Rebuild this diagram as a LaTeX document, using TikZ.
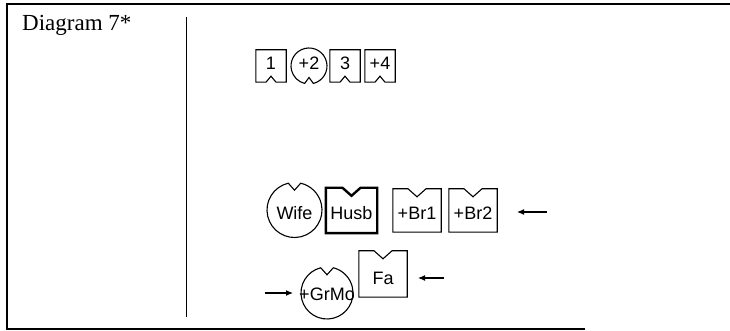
\documentclass[tikz,border=0pt]{standalone}
\usepackage{fontspec}
\setmainfont{Liberation Serif}
\newfontfamily\arialfont{Liberation Sans}
\usetikzlibrary{calc,arrows.meta}
\tikzset{
  frameline/.style={line width=1.1pt},
  shapeline/.style={line width=1.1pt, line join=miter},
  lbl/.style={font=\arialfont\fontsize{18}{21}\selectfont, inner sep=0pt},
  boxshape/.style={rectangle, draw=none, inner sep=0pt},
  circshape/.style={circle, draw=none, inner sep=0pt},
  arr/.style={line width=1.1pt, -{Latex[length=7pt,width=6pt]}},
}
\newcommand\notchtopbox[4][]{%
  \draw[shapeline,#1] (#2.north west) -- ($(#2.north)+(-#3,0)$) -- ($(#2.north)+(0,-#4)$) -- ($(#2.north)+(#3,0)$) -- (#2.north east) -- (#2.south east) -- (#2.south west) -- cycle;}
\newcommand\notchbotbox[3]{%
  \draw[shapeline] (#1.south west) -- ($(#1.south)+(-#2,0)$) -- ($(#1.south)+(0,#3)$) -- ($(#1.south)+(#2,0)$) -- (#1.south east) -- (#1.north east) -- (#1.north west) -- cycle;}
% name, centre angle of notch, half angle, radius, depth
\newcommand\notchcirc[5]{%
  \draw[shapeline] ($(#1)+({#2+#3}:#4)$) arc[start angle={#2+#3}, end angle={#2+360-#3}, radius=#4] -- ($(#1)+(#2:{#4*cos(#3)-#5})$) -- cycle;}
\begin{document}
\begin{tikzpicture}[x=1pt,y=1pt]
\useasboundingbox (0,0) rectangle (730,331);
% frame
\draw[frameline] (6,327) -- (730,327);
\draw[frameline] (7,327) -- (7,2);
\draw[frameline] (6,2) -- (585,2);
\draw[line width=1pt] (186,314) -- (186,14);
\node[anchor=base west, inner sep=0pt, font=\fontsize{23}{26}\selectfont] (title) at (22,300) {Diagram 7*};
% top row
\node[boxshape, minimum width=30pt, minimum height=32pt] (t1) at (271,265) {};
\node[lbl] (t1l) at (271,268) {1};
\notchbotbox{t1}{5pt}{6pt}
\node[circshape, minimum size=36pt] (t2) at (309,265) {};
\node[lbl] (t2l) at (309,268) {+2};
\notchcirc{t2}{270}{14}{18pt}{6pt}
\node[boxshape, minimum width=30pt, minimum height=32pt] (t3) at (345,265) {};
\node[lbl] (t3l) at (345,268) {3};
\notchbotbox{t3}{5pt}{6pt}
\node[boxshape, minimum width=30pt, minimum height=32pt] (t4) at (380,265) {};
\node[lbl] (t4l) at (380,268) {+4};
\notchbotbox{t4}{5pt}{6pt}
% second row
\node[circshape, minimum size=55pt] (wife) at (294.5,121) {};
\node[lbl] (wifel) at (294.5,118) {Wife};
\notchcirc{wife}{90}{13}{27.5pt}{7pt}
\node[boxshape, minimum width=51pt, minimum height=45pt] (husb) at (351.5,120.5) {};
\node[lbl] (husbl) at (351.5,118) {Husb};
\notchtopbox[line width=2.4pt]{husb}{9pt}{8pt}
\node[boxshape, minimum width=48pt, minimum height=43pt] (br1) at (417,120.5) {};
\node[lbl] (br1l) at (417,118) {+Br1};
\notchtopbox{br1}{9pt}{8pt}
\node[boxshape, minimum width=48pt, minimum height=43pt] (br2) at (473,120.5) {};
\node[lbl] (br2l) at (473,118) {+Br2};
\notchtopbox{br2}{9pt}{8pt}
\coordinate (a1s) at (547,119);
\coordinate (a1e) at (517,119);
\draw[arr] (a1s) -- (a1e);
% third row
\node[boxshape, minimum width=48pt, minimum height=46pt] (fa) at (383,57) {};
\node[lbl] (fal) at (383,53) {Fa};
\notchtopbox{fa}{9pt}{8pt}
\node[circshape, minimum size=52pt] (grmo) at (327,38) {};
\node[lbl] (grmol) at (327,37) {+GrMo};
\notchcirc{grmo}{90}{14}{26pt}{7pt}
\coordinate (a2s) at (265,38);
\coordinate (a2e) at (293,38);
\draw[arr] (a2s) -- (a2e);
\coordinate (a3s) at (444,53);
\coordinate (a3e) at (418,53);
\draw[arr] (a3s) -- (a3e);
\end{tikzpicture}
\end{document}
